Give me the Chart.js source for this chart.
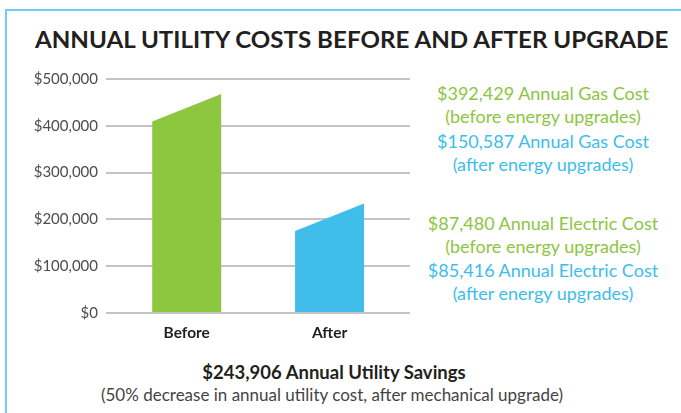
<!DOCTYPE html>
<html>
<head>
<meta charset="utf-8">
<script src="https://cdn.jsdelivr.net/npm/chart.js@4"></script>
<style>
  html, body { margin: 0; padding: 0; background: #fff; }
  body { width: 681px; height: 413px; position: relative; overflow: hidden; font-family: Lato, "Open Sans", sans-serif; }
  #frame { position: absolute; left: 5px; top: 9px; width: 690px; height: 420px; border-left: 2px solid #6dcff6; border-top: 2px solid #6dcff6; }
  #title { position: absolute; left: 35px; top: 25px; white-space: nowrap; font-family: Lato, sans-serif; font-weight: bold; font-size: 23px; line-height: 28px; color: #231f20; transform-origin: 0 0; }
  #chartBox { position: absolute; left: 0; top: 0; width: 420px; height: 345px; }
  .note { position: absolute; left: 420px; width: 246px; text-align: center; font-size: 18px; line-height: 23px; white-space: nowrap; }
  .green { color: #8cc63f; }
  .blue { color: #3dbdec; }
  #savings { position: absolute; left: 0; width: 668px; top: 361px; text-align: center; font-weight: bold; font-size: 18.5px; color: #231f20; }
  #savingsNote { position: absolute; left: 0; width: 664px; top: 384px; text-align: center; font-size: 17px; color: #444; }
</style>
</head>
<body>
<div id="frame"></div>
<div id="title">ANNUAL UTILITY COSTS BEFORE AND AFTER UPGRADE</div>
<div id="chartBox"><canvas id="chart"></canvas></div>
<div class="note green" style="top:82px">$392,429 Annual Gas Cost<br>(before energy upgrades)</div>
<div class="note blue" style="top:130px">$150,587 Annual Gas Cost<br>(after energy upgrades)</div>
<div class="note green" style="top:212px">$87,480 Annual Electric Cost<br>(before energy upgrades)</div>
<div class="note blue" style="top:259px">$85,416 Annual Electric Cost<br>(after energy upgrades)</div>
<div id="savings">$243,906 Annual Utility Savings</div>
<div id="savingsNote">(50% decrease in annual utility cost, after mechanical upgrade)</div>
<script>
// values
const categories = ['Before', 'After'];
const topLeft = [409000, 175000];   // low corner of the slanted top
const topRight = [468000, 234000];  // high corner of the slanted top
const barColors = ['#8dc63f', '#41bdeb'];
const yTicks = [0, 100000, 200000, 300000, 400000, 500000];

// squeeze the title to the condensed width of the original
const title = document.getElementById('title');
title.style.transform = 'scaleX(' + (633 / title.offsetWidth) + ')';

// draws each bar as a slanted-top shape using the bar element geometry
const slantedBars = {
  id: 'slantedBars',
  afterDatasetsDraw(chart) {
    const c = chart.ctx;
    const yScale = chart.scales.y;
    const meta = chart.getDatasetMeta(0);
    meta.data.forEach((bar, i) => {
      const left = bar.x - bar.width / 2;
      const right = bar.x + bar.width / 2;
      const yLeft = yScale.getPixelForValue(topLeft[i]);
      c.save();
      c.fillStyle = barColors[i];
      c.beginPath();
      c.moveTo(left, bar.base);
      c.lineTo(left, yLeft);
      c.lineTo(right, bar.y);
      c.lineTo(right, bar.base);
      c.closePath();
      c.fill();
      c.restore();
    });
  }
};

new Chart(document.getElementById('chart'), {
  type: 'bar',
  data: {
    datasets: [{
      data: categories.map((c, i) => ({ x: i, y: topRight[i] })),
      backgroundColor: 'rgba(0,0,0,0)',
      barThickness: 69
    }]
  },
  options: {
    responsive: true,
    maintainAspectRatio: false,
    animation: false,
    plugins: { legend: { display: false }, tooltip: { enabled: false } },
    layout: { padding: { left: 0, right: 10, top: 79, bottom: 0 } },
    scales: {
      x: {
        type: 'linear',
        offset: false,
        min: -0.565,
        max: 1.563,
        afterBuildTicks: s => { s.ticks = categories.map((c, i) => ({ value: i })); },
        afterFit: s => { s.height = 32; },
        grid: { display: false, drawTicks: false },
        border: { display: false },
        ticks: {
          callback: v => categories[v],
          padding: 11,
          color: '#231f20',
          font: { family: 'Lato', weight: 'bold', size: 15.5 }
        }
      },
      y: {
        min: 0,
        max: 500000,
        afterBuildTicks: s => { s.ticks = yTicks.map(v => ({ value: v })); },
        afterFit: s => { s.width = 106; },
        grid: { color: '#c4c4c4', lineWidth: 2, drawTicks: false },
        border: { display: false },
        ticks: {
          callback: v => '$' + v.toLocaleString('en-US'),
          padding: 8,
          color: '#4d4d4d',
          font: { family: 'Lato', size: 15 }
        }
      }
    }
  },
  plugins: [slantedBars]
});
</script>
</body>
</html>
